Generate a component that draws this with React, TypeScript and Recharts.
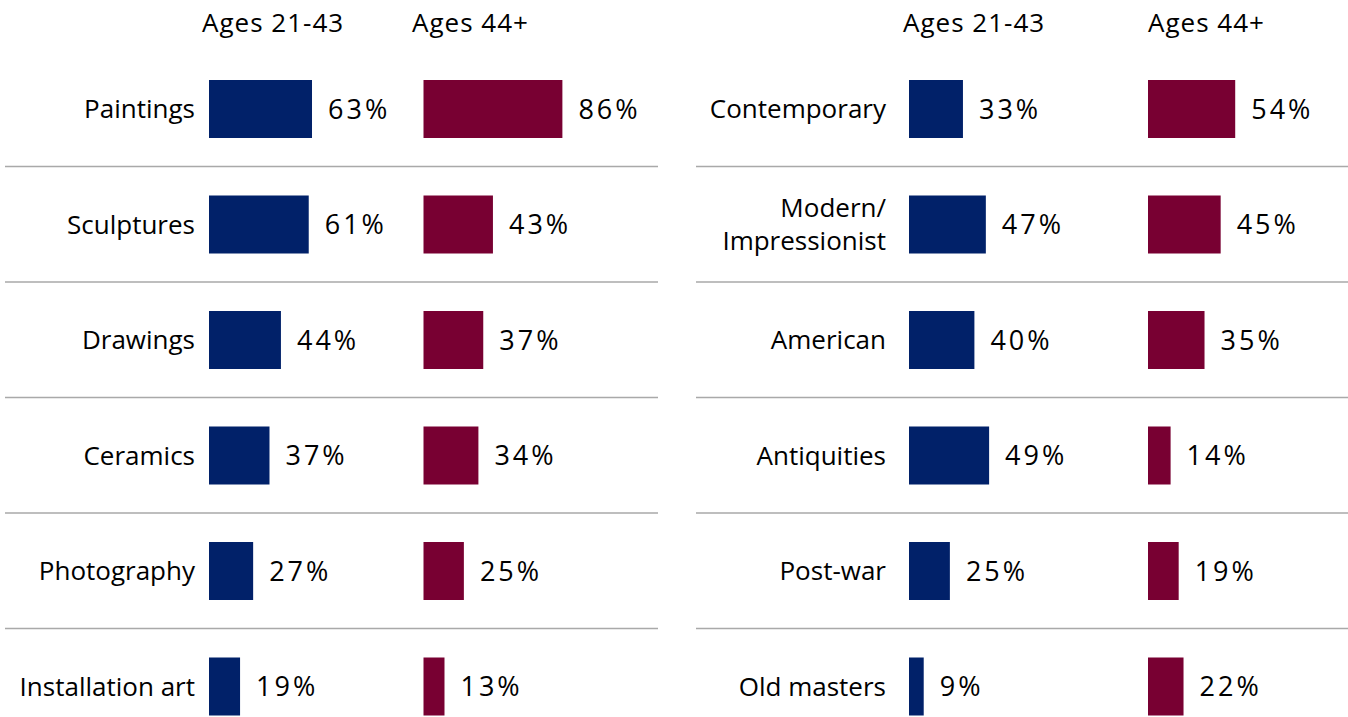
import { BarChart, Bar, XAxis, YAxis, CartesianGrid, LabelList } from 'recharts';

const seriesNames = ['Ages 21-43', 'Ages 44+'];

const artForms = ['Paintings', 'Sculptures', 'Drawings', 'Ceramics', 'Photography', 'Installation art'];
const artFormsYoung = [63, 61, 44, 37, 27, 19];
const artFormsOld = [86, 43, 37, 34, 25, 13];

const periods = ['Contemporary', 'Modern/\nImpressionist', 'American', 'Antiquities', 'Post-war', 'Old masters'];
const periodsYoung = [33, 47, 40, 49, 25, 9];
const periodsOld = [54, 45, 35, 14, 19, 22];

const BLUE = '#012169';
const MAROON = '#780032';
const FONT = '"Open Sans", sans-serif';

const ROW_H = 115.5;
const CHART_TOP = 51;

// domain that puts value 0 at pixel `zero` inside a plot spanning [left, right]
const domainFor = (zero: number, left: number, right: number, pxPer: number): [number, number] => [
  -(zero - left) / pxPer,
  (right - zero) / pxPer,
];

const CategoryLabel = (gap: number) => (props: any) => {
  const vb = props.viewBox || props;
  const lines = String(props.value).split('\n');
  const x = vb.x - gap;
  const cy = vb.y + vb.height / 2;
  return (
    <text x={x} textAnchor="end" fill="#000" fontSize={26} fontFamily={FONT}>
      {lines.map((l, i) => (
        <tspan key={i} x={x} y={cy + (i - (lines.length - 1) / 2) * 33} dy="0.355em">
          {l}
        </tspan>
      ))}
    </text>
  );
};

const pctLabel = {
  position: 'right' as const,
  offset: 16,
  formatter: (v: any) => `${v}%`,
  fill: '#000',
  fontSize: 27,
  fontFamily: FONT,
  letterSpacing: 3,
};

type PanelProps = {
  left: number;
  width: number;
  marginLeft: number;
  marginRight: number;
  categories: string[];
  young: number[];
  old: number[];
  youngZero: number;
  oldZero: number;
  labelGap: number;
  headerX: [number, number];
};

const Panel = (p: PanelProps) => {
  const data = p.categories.map((name, i) => ({ name, young: p.young[i], old: p.old[i] }));
  const plotL = p.left + p.marginLeft;
  const plotR = p.left + p.width - p.marginRight;
  const n = p.categories.length;
  return (
    <>
      {seriesNames.map((s, i) => (
        <div
          key={s}
          style={{
            position: 'absolute',
            left: p.headerX[i],
            top: 9,
            fontSize: 26,
            lineHeight: '26px',
            letterSpacing: 1,
            fontFamily: FONT,
            color: '#000',
            whiteSpace: 'nowrap',
          }}
        >
          {s}
        </div>
      ))}
      <div style={{ position: 'absolute', left: p.left, top: CHART_TOP }}>
        <BarChart
          width={p.width}
          height={ROW_H * n}
          data={data}
          layout="vertical"
          margin={{ top: 0, right: p.marginRight, bottom: 0, left: p.marginLeft }}
        >
          <CartesianGrid
            xAxisId="a"
            yAxisId="ya"
            vertical={false}
            stroke="#a9a9a9"
            strokeWidth={1.6}
            horizontalCoordinatesGenerator={({ offset }: any) =>
              Array.from({ length: n - 1 }, (_, k) => offset.top + (offset.height * (k + 1)) / n)
            }
          />
          <XAxis xAxisId="a" type="number" hide allowDataOverflow domain={domainFor(p.youngZero, plotL, plotR, 1.635)} />
          <XAxis xAxisId="b" type="number" hide allowDataOverflow domain={domainFor(p.oldZero, plotL, plotR, 1.615)} />
          <YAxis yAxisId="ya" type="category" dataKey="name" hide />
          <YAxis yAxisId="yb" type="category" dataKey="name" hide />
          <Bar xAxisId="a" yAxisId="ya" dataKey="young" fill={BLUE} barSize={58} isAnimationActive={false}>
            <LabelList dataKey="name" content={CategoryLabel(p.labelGap)} />
            <LabelList dataKey="young" {...pctLabel} />
          </Bar>
          <Bar xAxisId="b" yAxisId="yb" dataKey="old" fill={MAROON} barSize={58} isAnimationActive={false}>
            <LabelList dataKey="old" {...pctLabel} />
          </Bar>
        </BarChart>
      </div>
    </>
  );
};

const App = () => {
  return (
    <div style={{ position: 'absolute', left: 0, top: 0, width: 1348, height: 717, overflow: 'hidden', background: '#fff' }}>
      <Panel
        left={0}
        width={660}
        marginLeft={5}
        marginRight={2}
        categories={artForms}
        young={artFormsYoung}
        old={artFormsOld}
        youngZero={209}
        oldZero={423.5}
        labelGap={14}
        headerX={[202, 412]}
      />
      <Panel
        left={690}
        width={658}
        marginLeft={6}
        marginRight={0}
        categories={periods}
        young={periodsYoung}
        old={periodsOld}
        youngZero={909}
        oldZero={1148}
        labelGap={23}
        headerX={[903, 1148]}
      />
    </div>
  );
};

export default App;
